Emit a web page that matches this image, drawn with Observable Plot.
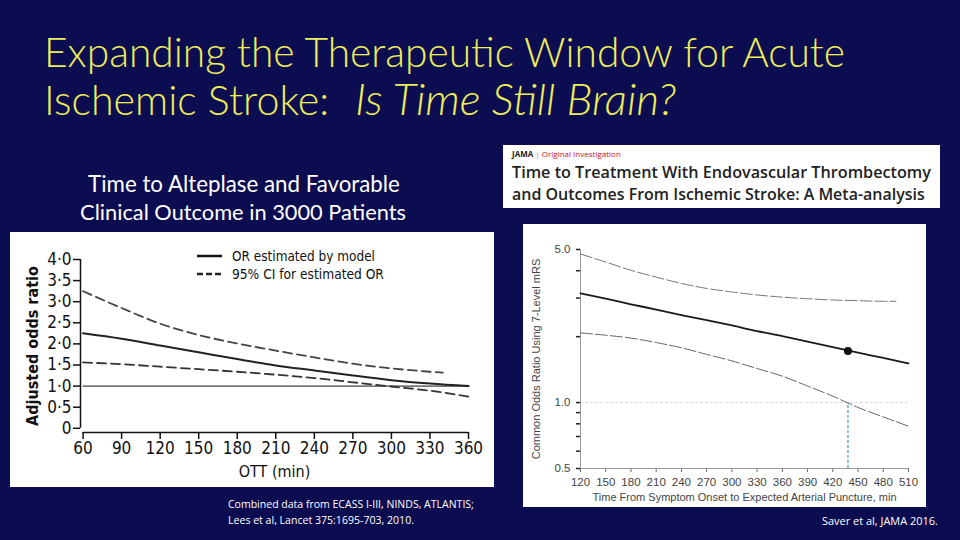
<!DOCTYPE html>
<html>
<head>
<meta charset="utf-8">
<script src="https://cdn.jsdelivr.net/npm/d3@7"></script>
<script src="https://cdn.jsdelivr.net/npm/@observablehq/plot@0.6"></script>
<style>
html, body { margin: 0; padding: 0; }
body { width: 960px; height: 540px; background: #0c0c50; position: relative; overflow: hidden; }
.box { position: absolute; background: white; }
#left { left: 10px; top: 232px; width: 484px; height: 255px; }
#right { left: 523px; top: 224px; width: 403px; height: 283px; }
#overlay { position: absolute; left: 0; top: 0; pointer-events: none; }
</style>
</head>
<body>
<div id="left" class="box"></div>
<div id="right" class="box"></div>
<svg id="overlay" width="960" height="540" xmlns="http://www.w3.org/2000/svg">
  <g font-family="Lato, 'Open Sans', sans-serif" font-weight="300" fill="#eeee5a">
    <text id="t1" x="44" y="67" data-w="801">Expanding the Therapeutic Window for Acute</text>
    <text id="t2a" x="44" y="115" data-w="285">Ischemic Stroke:</text>
    <text id="t2b" x="355" y="115" data-w="321" font-style="italic">Is Time Still Brain?</text>
  </g>
  <g font-family="Lato, 'Open Sans', sans-serif" fill="#ffffff" text-anchor="middle">
    <text id="s1" x="244" y="192" data-w="312">Time to Alteplase and Favorable</text>
    <text id="s2" x="243" y="220" data-w="326">Clinical Outcome in 3000 Patients</text>
  </g>
  <g font-family="'Open Sans', Lato, sans-serif" fill="#ffffff">
    <text id="c1" x="228" y="508" data-w="246">Combined data from ECASS I-III, NINDS, ATLANTIS;</text>
    <text id="c2" x="228" y="524" data-w="186">Lees et al, Lancet 375:1695-703, 2010.</text>
    <text id="c3" x="822" y="525" data-w="116">Saver et al, JAMA 2016.</text>
  </g>
  <rect x="503" y="145" width="437" height="63" fill="#ffffff"/>
  <g font-family="'Open Sans', 'Noto Sans', sans-serif">
    <text x="512" y="157" font-size="8" font-weight="bold" fill="#222">JAMA <tspan fill="#999" font-weight="normal">|</tspan> <tspan fill="#c8102e" font-weight="normal">Original Investigation</tspan></text>
    <text id="j1" x="512" y="178" data-w="419" fill="#222" font-weight="600">Time to Treatment With Endovascular Thrombectomy</text>
    <text id="j2" x="512" y="200" data-w="413" fill="#222" font-weight="600">and Outcomes From Ischemic Stroke: A Meta-analysis</text>
  </g>
  <g id="legend" font-family="'Liberation Sans Narrow', 'DejaVu Sans Condensed', sans-serif" fill="#111">
    <line x1="197" x2="222" y1="256" y2="256" stroke="#111" stroke-width="2.5"/>
    <text id="l1" x="232" y="261" data-w="143">OR estimated by model</text>
    <line x1="197" x2="222" y1="274" y2="274" stroke="#222" stroke-width="2.5" stroke-dasharray="6,3"/>
    <text id="l2" x="232" y="279" data-w="152">95% CI for estimated OR</text>
  </g>
</svg>
<script>
// ---------- Left chart: Lees et al, Lancet 2010 ----------
const ottMinutes = [60, 90, 120, 150, 180, 210, 240, 270, 300, 330, 360];
const orModel    = [2.25, 2.12, 1.96, 1.80, 1.64, 1.49, 1.37, 1.25, 1.14, 1.06, 1.00];
const orLower    = [1.56, 1.52, 1.46, 1.40, 1.34, 1.27, 1.19, 1.09, 0.99, 0.89, 0.75];
const ottUpperMinutes = [60, 90, 120, 150, 180, 210, 240, 270, 300, 330, 340];
const orUpper    = [3.25, 2.85, 2.48, 2.21, 2.01, 1.84, 1.68, 1.53, 1.42, 1.34, 1.32];
const leftYTicks = [0, 0.5, 1, 1.5, 2, 2.5, 3, 3.5, 4];
const leftXTicks = [60, 90, 120, 150, 180, 210, 240, 270, 300, 330, 360];
const leftYLabel = "Adjusted odds ratio";
const leftXLabel = "OTT (min)";

// ---------- Right chart: Saver et al, JAMA 2016 ----------
const timeMinutes = [120, 150, 180, 210, 240, 270, 300, 330, 360, 390, 420, 450, 480, 510];
const corModel    = [3.15, 2.98, 2.81, 2.66, 2.51, 2.38, 2.25, 2.12, 2.01, 1.90, 1.79, 1.69, 1.60, 1.51];
const corLower    = [2.08, 2.03, 1.97, 1.88, 1.78, 1.66, 1.55, 1.43, 1.32, 1.19, 1.07, 0.95, 0.86, 0.78];
const upperMinutes = [120, 150, 180, 210, 240, 270, 300, 330, 360, 390, 420, 450, 480, 495];
const corUpper    = [4.77, 4.38, 4.02, 3.74, 3.50, 3.32, 3.20, 3.10, 3.03, 2.98, 2.94, 2.92, 2.90, 2.90];
const cutoffMinutes = [438];
const cutoffCOR     = [1.72];
const rightYTicks  = [0.5, 0.6, 0.7, 0.8, 0.9, 1, 2, 3, 4, 5];
const rightYLabels = [0.5, 1, 5];
const rightXTicks  = [120, 150, 180, 210, 240, 270, 300, 330, 360, 390, 420, 450, 480, 510];
const rightYLabel = "Common Odds Ratio Using 7-Level mRS";
const rightXLabel = "Time From Symptom Onset to Expected Arterial Puncture, min";

const leftModel = ottMinutes.map((t, i) => ({t, v: orModel[i]}));
const leftLow = ottMinutes.map((t, i) => ({t, v: orLower[i]}));
const leftUp = ottUpperMinutes.map((t, i) => ({t, v: orUpper[i]}));
const rightModel = timeMinutes.map((t, i) => ({t, v: corModel[i]}));
const rightLow = timeMinutes.map((t, i) => ({t, v: corLower[i]}));
const rightUp = upperMinutes.map((t, i) => ({t, v: corUpper[i]}));
const rightDot = cutoffMinutes.map((t, i) => ({t, v: cutoffCOR[i]}));

const dotFmt = d => d === 0 ? "0" : d.toFixed(1).replace(".", "\u00b7");

const left = Plot.plot({
  width: 484, height: 255,
  marginLeft: 70, marginRight: 26, marginTop: 27, marginBottom: 55,
  x: {domain: [58, 360]},
  y: {domain: [-0.1, 4]},
  style: {fontFamily: "'Liberation Sans Narrow', 'DejaVu Sans Condensed', sans-serif", fontSize: "17px", color: "#111", background: "white"},
  marks: [
    Plot.axisY({ticks: leftYTicks, tickSize: 7, tickPadding: 2, tickFormat: dotFmt, label: null, strokeWidth: 1.5}),
    Plot.axisX({ticks: leftXTicks, tickSize: 7, tickPadding: 2, tickFormat: d => String(d), label: null, strokeWidth: 1.5}),
    Plot.ruleX([58], {y1: 0, y2: 4, strokeWidth: 1.5, stroke: "#111"}),
    Plot.ruleY([-0.1], {x1: 60, x2: 360, strokeWidth: 1.5, stroke: "#111"}),
    Plot.ruleY([1], {x1: 60, x2: 360, strokeWidth: 1, stroke: "#111"}),
    Plot.line(leftUp, {x: "t", y: "v", stroke: "#444", strokeWidth: 1.8, strokeDasharray: "9,5", curve: "monotone-x"}),
    Plot.line(leftLow, {x: "t", y: "v", stroke: "#333", strokeWidth: 1.8, strokeDasharray: "9,5", curve: "monotone-x"}),
    Plot.line(leftModel, {x: "t", y: "v", stroke: "#222", strokeWidth: 2, curve: "monotone-x"}),
    Plot.text([leftYLabel], {frameAnchor: "left", textAnchor: "middle", lineAnchor: "middle", rotate: -90, dx: -48, fontWeight: "bold", fontSize: 16}),
    Plot.text([leftXLabel], {frameAnchor: "bottom", lineAnchor: "middle", dy: 39, fontSize: 16})
  ]
});
document.getElementById("left").appendChild(left);

const right = Plot.plot({
  width: 403, height: 283,
  marginLeft: 57, marginRight: 18, marginTop: 25, marginBottom: 39,
  x: {domain: [120, 510]},
  y: {type: "log", domain: [0.5, 5]},
  style: {fontFamily: "'Liberation Sans', Arial, sans-serif", fontSize: "11.5px", color: "#444", background: "white"},
  marks: [
    Plot.ruleY([1], {stroke: "#dcdcdc", strokeDasharray: "3,2"}),
    Plot.axisY({ticks: rightYTicks, tickSize: 4, tickPadding: 6, tickFormat: d => rightYLabels.includes(d) ? d.toFixed(1) : "", label: null, stroke: "#222", strokeWidth: 1.5}),
    Plot.axisX({ticks: rightXTicks, tickSize: 4, tickPadding: 5, tickFormat: d => String(d), label: null, stroke: "#666"}),
    Plot.ruleX([120], {stroke: "#999"}),
    Plot.ruleY([0.5], {stroke: "#999"}),
    Plot.ruleX(cutoffMinutes, {y1: 0.5, y2: 1, stroke: "#8cbad0", strokeWidth: 2, strokeDasharray: "3,2"}),
    Plot.line(rightUp, {x: "t", y: "v", stroke: "#777", strokeWidth: 1, strokeDasharray: "12,3", curve: "monotone-x"}),
    Plot.line(rightLow, {x: "t", y: "v", stroke: "#666", strokeWidth: 1, strokeDasharray: "12,3", curve: "monotone-x"}),
    Plot.line(rightModel, {x: "t", y: "v", stroke: "#1a1a1a", strokeWidth: 1.8, curve: "monotone-x"}),
    Plot.dot(rightDot, {x: "t", y: "v", r: 4, fill: "#111", stroke: "none"}),
    Plot.text([rightYLabel], {frameAnchor: "left", textAnchor: "middle", lineAnchor: "middle", rotate: -90, dx: -44, fill: "#444", fontSize: 11}),
    Plot.text([rightXLabel], {frameAnchor: "bottom", lineAnchor: "middle", dy: 29, fill: "#444", fontSize: 11})
  ]
});
document.getElementById("right").appendChild(right);

function fitTexts() {
  document.querySelectorAll("#overlay text[data-w]").forEach(t => {
    const w = +t.getAttribute("data-w");
    t.setAttribute("font-size", 20);
    const len = t.getComputedTextLength();
    if (len > 0) t.setAttribute("font-size", (20 * w / len).toFixed(2));
  });
}
fitTexts();
if (document.fonts && document.fonts.ready) document.fonts.ready.then(fitTexts);
</script>
</body>
</html>
